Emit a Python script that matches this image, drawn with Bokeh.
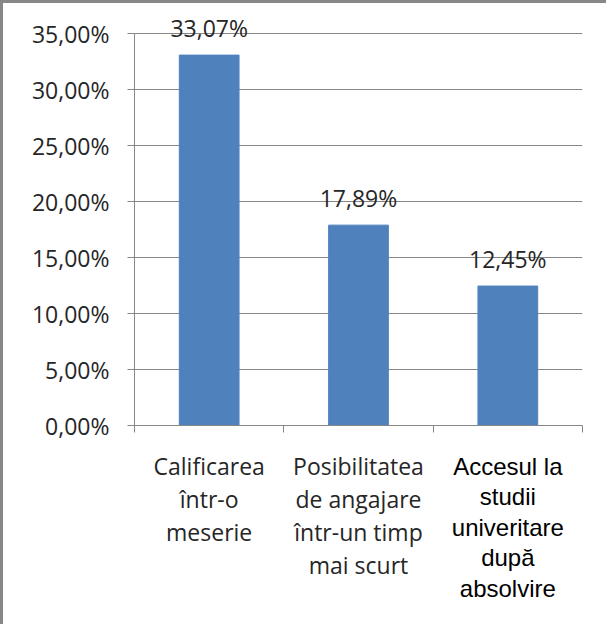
from bokeh.plotting import figure
from bokeh.layouts import column
from bokeh.models import ColumnDataSource, LabelSet, Range1d, FixedTicker, CDSView, IndexFilter
from bokeh.core.properties import value
from bokeh.embed import file_html
from bokeh.resources import INLINE

# ---- data ----
categories = [
    "Calificarea\nîntr-o\nmeserie",
    "Posibilitatea\nde angajare\nîntr-un timp\nmai scurt",
    "Accesul la\nstudii\nuniveritare\ndupă\nabsolvire",
]
values = [33.07, 17.89, 12.45]
y_ticks = [0, 5, 10, 15, 20, 25, 30, 35]
y_tick_labels = ["0,00%", "5,00%", "10,00%", "15,00%", "20,00%", "25,00%", "30,00%", "35,00%"]

n = len(categories)
xs = [i + 0.5 for i in range(n)]
src = ColumnDataSource(dict(
    x=xs, top=values, cat=categories,
    lab=[f"{v:.2f}".replace(".", ",") + "%" for v in values],
))

W = 603
H_TOP = 444
H_BOT = 177
xr = Range1d(0, n)

p = figure(width=W, height=H_TOP, output_backend="svg", toolbar_location=None,
           x_range=xr, y_range=Range1d(0, 37.5),
           min_border_left=131, min_border_right=24, min_border_top=2, min_border_bottom=22)
p.outline_line_color = None
p.border_fill_color = "white"

p.vbar(x="x", top="top", width=0.4, source=src, fill_color="#4F81BD", line_color="#4F81BD")

# y axis
p.yaxis.ticker = FixedTicker(ticks=y_ticks)
p.yaxis.bounds = (0, 35)
p.yaxis.major_label_overrides = {t: l for t, l in zip(y_ticks, y_tick_labels)}
p.yaxis.major_label_text_font = "Open Sans"
p.yaxis.major_label_text_font_size = "23px"
p.yaxis.major_label_text_color = "#262626"
p.yaxis.major_label_standoff = 18
p.yaxis.major_tick_out = 7
p.yaxis.major_tick_in = 0
p.yaxis.minor_tick_line_color = None
p.yaxis.axis_line_color = "#868686"
p.yaxis.major_tick_line_color = "#868686"

# x axis (ticks on category boundaries)
x_bounds = list(range(n + 1))
p.xaxis.ticker = FixedTicker(ticks=x_bounds)
p.xaxis.major_label_overrides = {t: "" for t in x_bounds}
p.xaxis.major_label_standoff = 0
p.xaxis.major_tick_out = 7
p.xaxis.major_tick_in = 0
p.xaxis.minor_tick_line_color = None
p.xaxis.axis_line_color = "#868686"
p.xaxis.major_tick_line_color = "#868686"

p.xgrid.grid_line_color = None
p.ygrid.ticker = FixedTicker(ticks=y_ticks)
p.ygrid.grid_line_color = "#868686"

# value labels
p.add_layout(LabelSet(x="x", y="top", text="lab", source=src, text_align="center",
                      text_baseline="middle", y_offset=27, text_font=value("Open Sans"),
                      text_font_size="23px", text_color="#262626"))

# category labels in a strip below the chart
p2 = figure(width=W, height=H_BOT, output_backend="svg", toolbar_location=None,
            x_range=xr, y_range=Range1d(-H_BOT, 0), x_axis_type=None, y_axis_type=None,
            min_border_left=131, min_border_right=24, min_border_top=0, min_border_bottom=0)
p2.outline_line_color = None
p2.xgrid.grid_line_color = None
p2.ygrid.grid_line_color = None
p2.text(x="x", y=-2, text="cat", source=src, view=CDSView(filter=IndexFilter([0, 1])),
        text_align="center", text_baseline="top", text_font=value("Open Sans"),
        text_font_size="23px", text_color="#262626", text_line_height=1.04)
p2.text(x="x", y=-5, text="cat", source=src, view=CDSView(filter=IndexFilter([2])),
        text_align="center", text_baseline="top", text_font=value("Liberation Sans"),
        text_font_size="24px", text_color="#000000", text_line_height=1.13)

layout = column(p, p2, spacing=0)
layout.styles = {"border-left": "3px solid #878787", "border-top": "3px solid #878787"}

open("out.html", "w").write(file_html(layout, INLINE))
